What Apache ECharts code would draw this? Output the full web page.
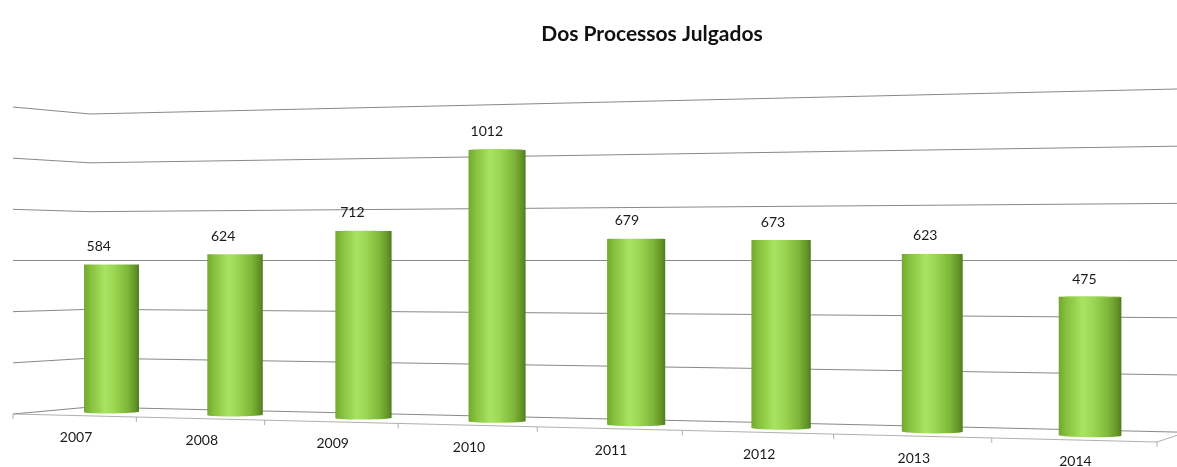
<!DOCTYPE html>
<html>
<head>
<meta charset="utf-8">
<script src="https://cdn.jsdelivr.net/npm/echarts@6/dist/echarts.min.js"></script>
<style>
  html, body { margin: 0; padding: 0; background: #ffffff; }
  #chart { width: 1177px; height: 467px; }
</style>
</head>
<body>
<div id="chart"></div>
<script>
// Chart data
const chartTitle = 'Dos Processos Julgados';
const years = ['2007', '2008', '2009', '2010', '2011', '2012', '2013', '2014'];
const julgados = [584, 624, 712, 1012, 679, 673, 623, 475];
const axisTicks = [0, 200, 400, 600, 800, 1000, 1200];

// ---- 3D view: the plot box seen in two-point perspective ----
// Corners of the front plane (depth 0) and back wall (depth 1), in order:
// bottom-left, bottom-right, top-left, top-right.
const FRONT_QUAD = [[13, 414], [1157, 442], [13, 107], [1157, 79.1]];
const BACK_QUAD = [[90, 407], [1186, 432.3], [90, 114], [1186, 88.8]];

function homography(dst) {
  const src = [[0, 0], [1, 0], [0, 1], [1, 1]];
  const A = [], b = [];
  for (let i = 0; i < 4; i++) {
    const [x, y] = src[i], [X, Y] = dst[i];
    A.push([x, y, 1, 0, 0, 0, -X * x, -X * y]); b.push(X);
    A.push([0, 0, 0, x, y, 1, -Y * x, -Y * y]); b.push(Y);
  }
  const n = 8;
  for (let c = 0; c < n; c++) {
    let piv = c;
    for (let r = c + 1; r < n; r++) if (Math.abs(A[r][c]) > Math.abs(A[piv][c])) piv = r;
    [A[c], A[piv]] = [A[piv], A[c]]; [b[c], b[piv]] = [b[piv], b[c]];
    for (let r = 0; r < n; r++) {
      if (r === c) continue;
      const f = A[r][c] / A[c][c];
      for (let k = c; k < n; k++) A[r][k] -= f * A[c][k];
      b[r] -= f * b[c];
    }
  }
  return b.map((v, i) => v / A[i][i]);
}
function applyH(h, s, t) {
  const d = h[6] * s + h[7] * t + 1;
  return [(h[0] * s + h[1] * t + h[2]) / d, (h[3] * s + h[4] * t + h[5]) / d];
}
const H_FRONT = homography(FRONT_QUAD);
const H_BACK = homography(BACK_QUAD);

// s: 0..1 along the category axis, t: 0..1 along the value axis, w: 0 (front) .. 1 (back)
function project(s, t, w) {
  const a = applyH(H_FRONT, s, t), b = applyH(H_BACK, s, t);
  return [a[0] + (b[0] - a[0]) * w, a[1] + (b[1] - a[1]) * w];
}

// Converts a flat cartesian point from the (hidden) grid into unit box coordinates
function unitOf(params, pt) {
  const cs = params.coordSys;
  return [(pt[0] - cs.x) / cs.width, (cs.y + cs.height - pt[1]) / cs.height];
}

function convexHull(pts) {
  const p = pts.slice().sort((a, b) => a[0] - b[0] || a[1] - b[1]);
  const cross = (o, a, b) => (a[0] - o[0]) * (b[1] - o[1]) - (a[1] - o[1]) * (b[0] - o[0]);
  const lower = [], upper = [];
  for (const q of p) {
    while (lower.length >= 2 && cross(lower[lower.length - 2], lower[lower.length - 1], q) <= 0) lower.pop();
    lower.push(q);
  }
  for (let i = p.length - 1; i >= 0; i--) {
    const q = p[i];
    while (upper.length >= 2 && cross(upper[upper.length - 2], upper[upper.length - 1], q) <= 0) upper.pop();
    upper.push(q);
  }
  upper.pop(); lower.pop();
  return lower.concat(upper);
}

const FONT = 'Lato, "Open Sans", sans-serif';
const GRID_COLOR = '#888888';
const FLOOR_COLOR = '#b0b0b0';

// Gridlines: one segment across the left side wall and one along the back wall
const wallSeries = {
  type: 'custom',
  silent: true,
  z: 1,
  data: axisTicks.map(v => [0, v]),
  renderItem(params, api) {
    const t = unitOf(params, api.coord([0, api.value(1)]))[1];
    return {
      type: 'polyline',
      shape: { points: [project(0, t, 0), project(0, t, 1), project(1, t, 1)] },
      style: { stroke: GRID_COLOR, lineWidth: 1, fill: null }
    };
  }
};

// Floor front edge, right edge and category ticks
const floorSeries = {
  type: 'custom',
  silent: true,
  z: 2,
  data: [[0, 0]],
  renderItem(params, api) {
    const cs = params.coordSys;
    const bandS = api.size([1, 0])[0] / cs.width;
    const s0 = unitOf(params, api.coord([0, 0]))[0] - bandS / 2;
    const children = [];
    const fl = project(s0, 0, 0), fr = project(s0 + years.length * bandS, 0, 0);
    const br = project(s0 + years.length * bandS, 0, 1);
    children.push({ type: 'polyline', shape: { points: [fl, fr, br] }, style: { stroke: FLOOR_COLOR, lineWidth: 1, fill: null } });
    for (let k = 0; k <= years.length; k++) {
      const p = project(s0 + k * bandS, 0, 0);
      children.push({ type: 'line', shape: { x1: p[0], y1: p[1], x2: p[0], y2: p[1] + 5 }, style: { stroke: FLOOR_COLOR, lineWidth: 1 } });
    }
    return { type: 'group', children };
  }
};

const bodyGradient = () => new echarts.graphic.LinearGradient(0, 0, 1, 0, [
  { offset: 0, color: '#72a82f' },
  { offset: 0.12, color: '#86c03c' },
  { offset: 0.38, color: '#a8e462' },
  { offset: 0.55, color: '#9bd753' },
  { offset: 0.8, color: '#7db537' },
  { offset: 0.95, color: '#5f9025' },
  { offset: 1, color: '#4e7a1c' }
]);

// Cylinders with value labels and category labels
const barSeries = {
  type: 'custom',
  z: 3,
  data: julgados.map((v, i) => [i, v]),
  renderItem(params, api) {
    const i = api.value(0), v = api.value(1);
    const cs = params.coordSys;
    const sc = unitOf(params, api.coord([i, 0]))[0];
    const t = unitOf(params, api.coord([i, v]))[1];
    const bandS = api.size([1, 0])[0] / cs.width;
    const rs = bandS * 0.19, rw = 0.2, wc = 0.5;
    const ringB = [], ringT = [];
    const STEPS = 64;
    for (let k = 0; k < STEPS; k++) {
      const a = (k / STEPS) * Math.PI * 2;
      const s = sc + rs * Math.cos(a), w = wc + rw * Math.sin(a);
      ringB.push(project(s, 0, w));
      ringT.push(project(s, t, w));
    }
    const children = [{
      type: 'polygon',
      shape: { points: convexHull(ringB.concat(ringT)) },
      style: { fill: bodyGradient() }
    }];
    if (t < 0.5) {
      children.push({
        type: 'polygon',
        shape: { points: ringT },
        style: { fill: '#a6dc62' }
      });
    }
    const lp = project(sc, t, 0.33);
    children.push({
      type: 'text',
      x: lp[0], y: lp[1] - 18,
      style: { text: String(v), fill: '#1a1a1a', fontSize: 14, fontFamily: FONT, align: 'center', verticalAlign: 'middle' }
    });
    const cp = project(sc, 0, 0);
    children.push({
      type: 'text',
      x: cp[0] + 2, y: cp[1] + 22,
      style: { text: years[i], fill: '#1a1a1a', fontSize: 14, fontFamily: FONT, align: 'center', verticalAlign: 'middle' }
    });
    return { type: 'group', children };
  }
};

const chart = echarts.init(document.getElementById('chart'), null, { renderer: 'canvas' });
chart.setOption({
  animation: false,
  backgroundColor: '#ffffff',
  title: {
    text: chartTitle,
    left: 647,
    top: 19,
    textAlign: 'center',
    textStyle: { fontFamily: FONT, fontWeight: 'bold', fontSize: 21, color: '#111111' }
  },
  grid: { left: 100, right: 100, top: 60, bottom: 60, show: false },
  xAxis: { type: 'category', data: years, show: false },
  yAxis: { type: 'value', min: 0, max: 1200, interval: 200, show: false },
  series: [wallSeries, floorSeries, barSeries]
});
</script>
</body>
</html>
